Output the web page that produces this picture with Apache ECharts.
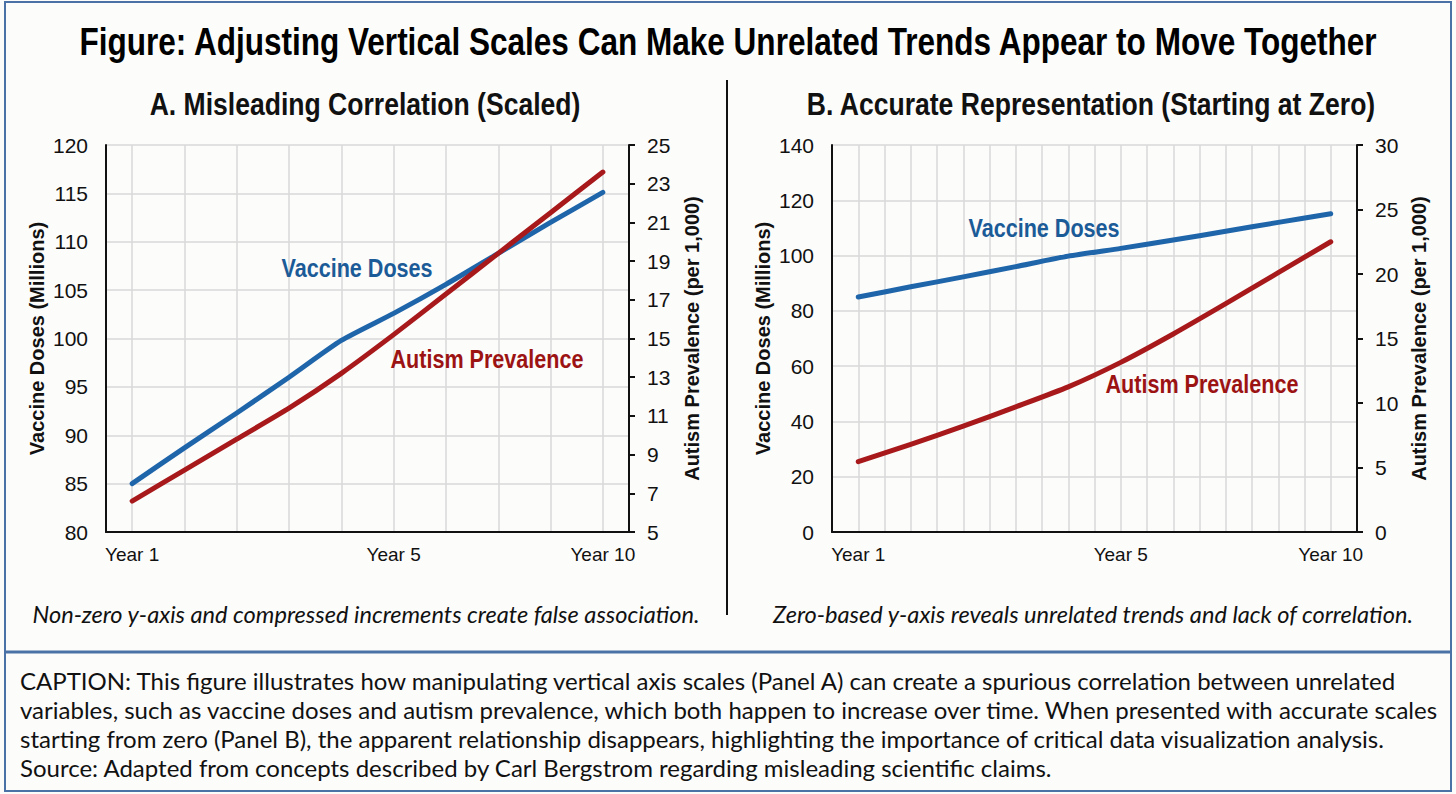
<!DOCTYPE html>
<html>
<head>
<meta charset="utf-8">
<script src="https://cdn.jsdelivr.net/npm/echarts@6/dist/echarts.min.js"></script>
<style>
html,body{margin:0;padding:0;background:#fcfcfb;}
#c{width:1456px;height:794px;}
</style>
</head>
<body>
<div id="c"></div>
<script>
// ---------- data ----------
const yearIndex = ['1','2','3','4','5','6','7','8','9','10'];
const xTickLabels = ['Year 1','','','','','Year 5','','','','Year 10'];
const vaccineDoses = [85.0, 88.7, 92.3, 96.0, 99.8, 102.6, 105.6, 108.8, 112.0, 115.1];
const autismPrevalenceA = [6.6, 8.2, 9.8, 11.4, 13.2, 15.2, 17.3, 19.4, 21.5, 23.6];
const autismPrevalenceB = [5.45, 6.8, 8.2, 9.7, 11.25, 13.15, 15.35, 17.7, 20.1, 22.5];
// axis ranges [min, max, step]
const dosesAxisA = [80, 120, 5];
const autismAxisA = [5, 25, 2];
const dosesAxisB = [0, 140, 20];
const autismAxisB = [0, 30, 5];

const mainTitle = 'Figure: Adjusting Vertical Scales Can Make Unrelated Trends Appear to Move Together';
const panelTitles = ['A. Misleading Correlation (Scaled)', 'B. Accurate Representation (Starting at Zero)'];
const panelNotes = ['Non-zero y-axis and compressed increments create false association.',
                    'Zero-based y-axis reveals unrelated trends and lack of correlation.'];
const seriesNames = ['Vaccine Doses', 'Autism Prevalence'];
const axisNames = ['Vaccine Doses (Millions)', 'Autism Prevalence (per 1,000)'];
const captionLines = [
  'CAPTION: This figure illustrates how manipulating vertical axis scales (Panel A) can create a spurious correlation between unrelated',
  'variables, such as vaccine doses and autism prevalence, which both happen to increase over time. When presented with accurate scales',
  'starting from zero (Panel B), the apparent relationship disappears, highlighting the importance of critical data visualization analysis.',
  'Source: Adapted from concepts described by Carl Bergstrom regarding misleading scientific claims.'
];

// ---------- style ----------
const SANS = "'Liberation Sans',Arial,sans-serif";
const HUMAN = "Lato,'Open Sans',sans-serif";
const BLUE = '#1f65aa', RED = '#a8191b', BLUE_T = '#1b5b97', RED_T = '#9c1313';
const GRIDC = '#d9d9d9', INK = '#111111', FRAME = '#4a72a6';
const CONDENSE = 0.83;

const chart = echarts.init(document.getElementById('c'), null, {renderer: 'svg'});

function xAxisCfg(gridIndex, opts) {
  return Object.assign({
    type: 'category', gridIndex: gridIndex, data: yearIndex, boundaryGap: true,
    axisLine: {show: true, onZero: false, lineStyle: {color: INK, width: 2}},
    axisTick: {show: false},
    axisLabel: {interval: 0, margin: 13, formatter: (v, i) => xTickLabels[i],
                fontFamily: SANS, fontSize: 19, color: INK},
    splitLine: {show: true, interval: 0, alignWithLabel: true, lineStyle: {color: GRIDC, width: 1.5}}
  }, opts || {});
}
function yAxisCfg(gridIndex, range, side, name, gap, split) {
  return {
    type: 'value', gridIndex: gridIndex, position: side,
    min: range[0], max: range[1], interval: range[2],
    name: name, nameLocation: 'middle', nameGap: gap,
    nameTextStyle: {fontFamily: SANS, fontWeight: 'bold', fontSize: 20, color: INK},
    axisLine: {show: true, lineStyle: {color: INK, width: 2}},
    axisTick: {show: side === 'right', length: 6, lineStyle: {color: INK, width: 2}},
    axisLabel: {margin: 18, fontFamily: SANS, fontSize: 21, color: INK},
    splitLine: {show: split, lineStyle: {color: GRIDC, width: 1.5}}
  };
}
function lineSeries(xi, yi, data, color) {
  return {type: 'line', xAxisIndex: xi, yAxisIndex: yi, data: data, symbol: 'none',
          smooth: 0.2, lineStyle: {color: color, width: 5, cap: 'round', join: 'round'}, z: 5};
}
function txt(text, x, y, font, fill, align, sx) {
  return {type: 'text', silent: true, z: 50, x: x, y: y, scaleX: sx || 1,
          style: {text: text, x: 0, y: 0, font: font, fill: fill,
                   textAlign: align || 'center', textVerticalAlign: 'middle'}};
}

const graphics = [
  {type: 'rect', silent: true, z: 40, shape: {x: 5, y: 2, width: 1446, height: 789},
   style: {fill: 'none', stroke: FRAME, lineWidth: 2}},
  {type: 'line', silent: true, z: 40, shape: {x1: 5, y1: 652, x2: 1451, y2: 652},
   style: {stroke: FRAME, lineWidth: 3}},
  {type: 'line', silent: true, z: 40, shape: {x1: 727, y1: 80, x2: 727, y2: 615},
   style: {stroke: INK, lineWidth: 2}},
  txt(mainTitle, 728, 41, "bold 38px " + SANS, '#000', 'center', CONDENSE),
  txt(panelTitles[0], 365, 104, "bold 32px " + SANS, '#111', 'center', CONDENSE),
  txt(panelTitles[1], 1091, 104, "bold 32px " + SANS, '#111', 'center', CONDENSE),
  txt(seriesNames[0], 357, 268, "bold 26px " + SANS, BLUE_T, 'center', CONDENSE),
  txt(seriesNames[1], 487, 359, "bold 26px " + SANS, RED_T, 'center', CONDENSE),
  txt(seriesNames[0], 1044, 228, "bold 26px " + SANS, BLUE_T, 'center', CONDENSE),
  txt(seriesNames[1], 1202, 384, "bold 26px " + SANS, RED_T, 'center', CONDENSE),
  txt(panelNotes[0], 366, 614, "italic 23.6px " + HUMAN, '#111'),
  txt(panelNotes[1], 1093, 614, "italic 23.6px " + HUMAN, '#111')
];
captionLines.forEach((l, i) => graphics.push(txt(l, 20, 680 + i * 29, "24px " + HUMAN, '#111', 'left')));

chart.setOption({
  backgroundColor: '#fcfcfb',
  animation: false,
  grid: [
    {left: 106, top: 145, width: 523, height: 387, containLabel: false},
    {left: 832, top: 145, width: 525, height: 387, containLabel: false}
  ],
  xAxis: [
    xAxisCfg(0),
    xAxisCfg(1, {splitLine: {show: true, interval: 0, lineStyle: {color: GRIDC, width: 1.5}}}),
    xAxisCfg(1, {axisLine: {show: false}, axisLabel: {show: false}})
  ],
  yAxis: [
    yAxisCfg(0, dosesAxisA, 'left', axisNames[0], 59, true),
    yAxisCfg(0, autismAxisA, 'right', axisNames[1], 53, false),
    yAxisCfg(1, dosesAxisB, 'left', axisNames[0], 59, true),
    yAxisCfg(1, autismAxisB, 'right', axisNames[1], 52, false)
  ],
  series: [
    lineSeries(0, 0, vaccineDoses, BLUE),
    lineSeries(0, 1, autismPrevalenceA, RED),
    lineSeries(1, 2, vaccineDoses, BLUE),
    lineSeries(1, 3, autismPrevalenceB, RED)
  ],
  graphic: graphics
});
</script>
</body>
</html>
